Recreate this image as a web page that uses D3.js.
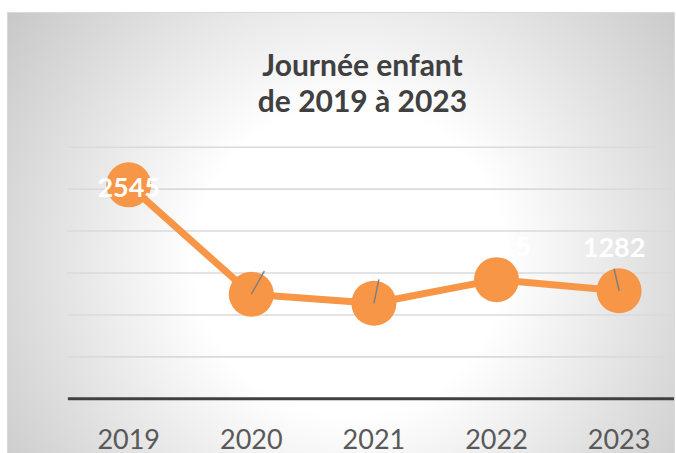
<!DOCTYPE html>
<html>
<head>
<meta charset="utf-8">
<script src="https://cdn.jsdelivr.net/npm/d3@7"></script>
<style>
  body { margin: 0; background: #fff; }
  svg { display: block; }
</style>
</head>
<body>
<svg id="chart" width="676" height="453"></svg>
<script>
// chart data
var years = ["2019", "2020", "2021", "2022", "2023"];
var values = [2545, 1241, 1133, 1415, 1282];
var yTicks = [500, 1000, 1500, 2000, 2500, 3000];
var titleLines = ["Journée enfant", "de 2019 à 2023"];

// label placement (pixels, relative to the point), Excel style manual moves
var labelOffsets = [[0, 2], [13, -45], [5, -46], [3, -33], [-5, -44]];
var showLeader = [false, true, true, false, true];

var orange = "#F79646";
var svg = d3.select("#chart");
var defs = svg.append("defs");

// card background with radial gradient
var bg = defs.append("radialGradient")
  .attr("id", "bgGrad")
  .attr("gradientUnits", "userSpaceOnUse")
  .attr("cx", 350).attr("cy", 260).attr("r", 430);
bg.append("stop").attr("offset", 0.36).attr("stop-color", "#ffffff");
bg.append("stop").attr("offset", 1).attr("stop-color", "#c6c6c6");

// gridlines get darker towards the bottom
var gridGrad = defs.append("linearGradient")
  .attr("id", "gridGrad")
  .attr("gradientUnits", "userSpaceOnUse")
  .attr("x1", 0).attr("x2", 0).attr("y1", 146).attr("y2", 357);
gridGrad.append("stop").attr("offset", 0).attr("stop-color", "#dadada");
gridGrad.append("stop").attr("offset", 1).attr("stop-color", "#a2a2a2");

defs.append("clipPath").attr("id", "cardClip")
  .append("rect").attr("x", 7).attr("y", 12).attr("width", 667).attr("height", 450);

svg.append("rect")
  .attr("x", 7.5).attr("y", 12.5).attr("width", 667).attr("height", 450)
  .attr("fill", "url(#bgGrad)")
  .attr("stroke", "#d9d9d9");

var g = svg.append("g").attr("clip-path", "url(#cardClip)");

var x = d3.scaleBand().domain(years).range([67.4, 680.4]);
var y = d3.scaleLinear().domain([0, 3000]).range([398.3, 146.7]);
function cx(d) { return x(d) + x.bandwidth() / 2; }

// gridlines
var grid = g.append("g")
  .attr("transform", "translate(67.4,0)")
  .call(d3.axisLeft(y).tickValues(yTicks).tickSize(-613).tickFormat(""));
grid.select(".domain").remove();
grid.selectAll(".tick line")
  .attr("stroke", "url(#gridGrad)")
  .attr("stroke-width", 1.6);

// x axis
var xAxis = g.append("g")
  .attr("transform", "translate(0," + y(0) + ")")
  .call(d3.axisBottom(x).tickSize(0));
xAxis.select(".domain")
  .attr("stroke", "#404040")
  .attr("stroke-width", 3);
xAxis.selectAll(".tick text")
  .attr("y", 51)
  .attr("dy", 0)
  .attr("fill", "#595959")
  .style("font-family", "Lato, sans-serif")
  .style("font-size", "27px");

// title
svg.append("text")
  .attr("x", 362.5)
  .attr("text-anchor", "middle")
  .attr("fill", "#404040")
  .style("font-family", "Lato, sans-serif")
  .style("font-weight", "bold")
  .style("font-size", "30px")
  .selectAll("tspan")
  .data(titleLines)
  .enter()
  .append("tspan")
  .attr("x", 362.5)
  .attr("y", function(d, i) { return 76 + i * 36; })
  .text(function(d) { return d; });

// line + markers
var pts = years.map(function(d, i) { return { year: d, value: values[i], i: i }; });

g.append("path")
  .datum(pts)
  .attr("fill", "none")
  .attr("stroke", orange)
  .attr("stroke-width", 7)
  .attr("stroke-linejoin", "round")
  .attr("d", d3.line()
    .x(function(d) { return cx(d.year); })
    .y(function(d) { return y(d.value); }));

g.selectAll("circle.marker")
  .data(pts)
  .enter()
  .append("circle")
  .attr("class", "marker")
  .attr("cx", function(d) { return cx(d.year); })
  .attr("cy", function(d) { return y(d.value); })
  .attr("r", 22.5)
  .attr("fill", orange);

// leader lines to the labels
g.selectAll("line.leader")
  .data(pts.filter(function(d) { return showLeader[d.i]; }))
  .enter()
  .append("line")
  .attr("class", "leader")
  .attr("x1", function(d) { return cx(d.year); })
  .attr("y1", function(d) { return y(d.value); })
  .attr("x2", function(d) { return cx(d.year) + labelOffsets[d.i][0]; })
  .attr("y2", function(d) { return y(d.value) + labelOffsets[d.i][1] + 22; })
  .attr("stroke", "#7f7f7f")
  .attr("stroke-width", 1.5);

// data labels (white, as in the original)
g.selectAll("text.label")
  .data(pts)
  .enter()
  .append("text")
  .attr("class", "label")
  .attr("x", function(d) { return cx(d.year) + labelOffsets[d.i][0]; })
  .attr("y", function(d) { return y(d.value) + labelOffsets[d.i][1]; })
  .attr("dy", "0.36em")
  .attr("text-anchor", "middle")
  .attr("fill", "#ffffff")
  .style("font-family", "Lato, sans-serif")
  .style("font-weight", "bold")
  .style("font-size", "27px")
  .text(function(d) { return d.value; });
</script>
</body>
</html>
